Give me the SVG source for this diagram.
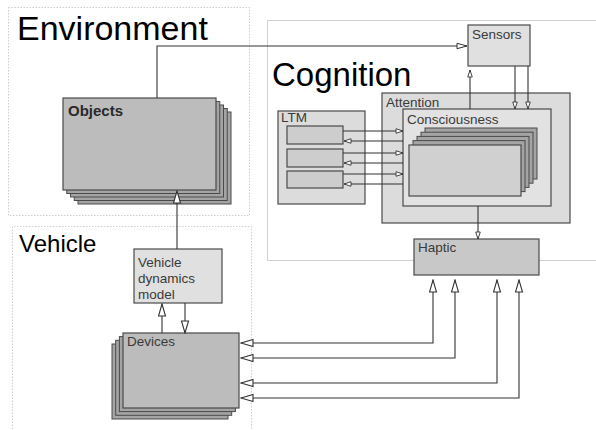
<svg xmlns="http://www.w3.org/2000/svg" width="596" height="430" viewBox="0 0 596 430">
  <style>
    .frame { fill: none; stroke: #cfcfcf; stroke-width: 1; }
    .dotted { stroke-dasharray: 1.5 1.5; }
    .title { font-family: "Liberation Sans", Arial, sans-serif; fill: #000; }
    .lbl { font-family: "Liberation Sans", Arial, sans-serif; font-size: 13.5px; fill: #3a3a3a; }
    .box { stroke: #4a4a4a; stroke-width: 1.2; }
    .back { fill: #a4a4a4; stroke: #4a4a4a; stroke-width: 1; }
    .conn { fill: none; stroke: #333; stroke-width: 1.1; }
  </style>
  <defs>
    <marker id="arrowBig" markerUnits="userSpaceOnUse" markerWidth="14" markerHeight="10" refX="13" refY="4.5" orient="auto-start-reverse">
      <path d="M1,1 L13,4.5 L1,8 Z" fill="#fff" stroke="#333" stroke-width="1.1"/>
    </marker>
    <marker id="arrowMid" markerUnits="userSpaceOnUse" markerWidth="12" markerHeight="8" refX="11" refY="3.5" orient="auto-start-reverse">
      <path d="M1,0.8 L11,3.5 L1,6.2 Z" fill="#fff" stroke="#333" stroke-width="1"/>
    </marker>
    <marker id="arrowSmall" markerUnits="userSpaceOnUse" markerWidth="9" markerHeight="6" refX="8" refY="2.75" orient="auto-start-reverse">
      <path d="M1,0.5 L8,2.75 L1,5 Z" fill="#fff" stroke="#333" stroke-width="0.9"/>
    </marker>
  </defs>

  <rect width="596" height="430" fill="#fff"/>

  <!-- Environment frame -->
  <g id="environment">
    <rect class="frame dotted" x="8.5" y="7.5" width="241" height="208"/>
    <text class="title" x="17" y="40" font-size="34">Environment</text>
  </g>

  <!-- Cognition frame -->
  <g id="cognition">
    <path class="frame" d="M600,20.5 H267.5 V260.5 H600"/>
    <text class="title" x="272" y="86" font-size="33">Cognition</text>
  </g>

  <!-- Vehicle frame -->
  <g id="vehicle">
    <path class="frame dotted" d="M12.5,432 V226.5 H251.5 V432"/>
    <text class="title" x="19" y="252" font-size="24">Vehicle</text>
  </g>

  <!-- Objects (stacked) -->
  <g id="objects">
    <rect class="back" x="78" y="112" width="153" height="92"/>
    <rect class="back" x="74.25" y="108.5" width="153" height="92"/>
    <rect class="back" x="70.5" y="105" width="153" height="92"/>
    <rect class="back" x="66.75" y="101.5" width="153" height="92"/>
    <rect class="box" x="63" y="98" width="153" height="92" fill="#bcbcbc"/>
    <text class="lbl" x="68" y="116" font-size="15" font-weight="bold" fill="#2a2a2a" style="font-size:15px;fill:#2a2a2a">Objects</text>
  </g>

  <!-- Sensors -->
  <g id="sensors">
    <rect class="box" x="468" y="25" width="62" height="41" fill="#e0e0e0"/>
    <text class="lbl" x="472" y="39">Sensors</text>
  </g>

  <!-- LTM -->
  <g id="ltm">
    <rect class="box" x="278" y="111" width="87" height="93" fill="#dcdcdc"/>
    <text class="lbl" x="281" y="122">LTM</text>
    <rect class="box" x="287" y="126" width="56" height="18" fill="#cdcdcd"/>
    <rect class="box" x="287" y="149" width="56" height="18" fill="#cdcdcd"/>
    <rect class="box" x="287" y="171" width="56" height="17" fill="#cdcdcd"/>
  </g>

  <!-- Attention / Consciousness -->
  <g id="attention">
    <rect class="box" x="382" y="93" width="188" height="130" fill="#dcdcdc"/>
    <text class="lbl" x="386" y="107">Attention</text>
  </g>
  <g id="consciousness">
    <rect class="box" x="403" y="109" width="148" height="97" fill="#e2e2e2"/>
    <text class="lbl" x="407" y="124">Consciousness</text>
    <rect class="back" x="425" y="128" width="112" height="51"/>
    <rect class="back" x="421" y="132.2" width="112" height="51"/>
    <rect class="back" x="417" y="136.4" width="112" height="51"/>
    <rect class="back" x="413" y="140.6" width="112" height="51"/>
    <rect class="box" x="409" y="145" width="112" height="51" fill="#d0d0d0"/>
  </g>

  <!-- Haptic -->
  <g id="haptic">
    <rect class="box" x="414" y="239" width="125" height="36" fill="#c8c8c8"/>
    <text class="lbl" x="418" y="252">Haptic</text>
  </g>

  <!-- Vehicle dynamics model -->
  <g id="vehicle-dynamics-model">
    <rect class="box" x="134" y="249" width="88" height="54" fill="#e0e0e0"/>
    <text class="lbl" x="138" y="267">Vehicle</text>
    <text class="lbl" x="138" y="283">dynamics</text>
    <text class="lbl" x="138" y="299">model</text>
  </g>

  <!-- Devices (stacked) -->
  <g id="devices">
    <rect class="back" x="112" y="344" width="116" height="75"/>
    <rect class="back" x="115.7" y="340.3" width="116" height="75"/>
    <rect class="back" x="119.4" y="336.6" width="116" height="75"/>
    <rect class="box" x="123" y="333" width="116" height="75" fill="#bcbcbc"/>
    <text class="lbl" x="127" y="346">Devices</text>
  </g>

  <!-- Connectors -->
  <g id="connectors">
    <path class="conn" d="M157,98 V46 H467" marker-end="url(#arrowMid)"/>
    <path class="conn" d="M177,249 V191" marker-end="url(#arrowBig)"/>
    <path class="conn" d="M162,333 V304" marker-end="url(#arrowBig)"/>
    <path class="conn" d="M185,303 V333" marker-end="url(#arrowBig)"/>

    <path class="conn" d="M470,109 V70" marker-end="url(#arrowSmall)"/>
    <path class="conn" d="M515,66 V109" marker-end="url(#arrowSmall)"/>
    <path class="conn" d="M528,66 V109" marker-end="url(#arrowSmall)"/>
    <path class="conn" d="M478,206 V239" marker-end="url(#arrowSmall)"/>

    <path class="conn" d="M343,131 H403" marker-end="url(#arrowSmall)"/>
    <path class="conn" d="M403,141 H344" marker-end="url(#arrowSmall)"/>
    <path class="conn" d="M343,153 H403" marker-end="url(#arrowSmall)"/>
    <path class="conn" d="M403,163 H344" marker-end="url(#arrowSmall)"/>
    <path class="conn" d="M343,174 H403" marker-end="url(#arrowSmall)"/>
    <path class="conn" d="M403,184 H344" marker-end="url(#arrowSmall)"/>

    <path class="conn" d="M241,343 H433 V280" marker-start="url(#arrowBig)" marker-end="url(#arrowBig)"/>
    <path class="conn" d="M241,358 H455 V280" marker-start="url(#arrowBig)" marker-end="url(#arrowBig)"/>
    <path class="conn" d="M241,383 H497 V280" marker-start="url(#arrowBig)" marker-end="url(#arrowBig)"/>
    <path class="conn" d="M241,398 H519 V280" marker-start="url(#arrowBig)" marker-end="url(#arrowBig)"/>
  </g>
</svg>
